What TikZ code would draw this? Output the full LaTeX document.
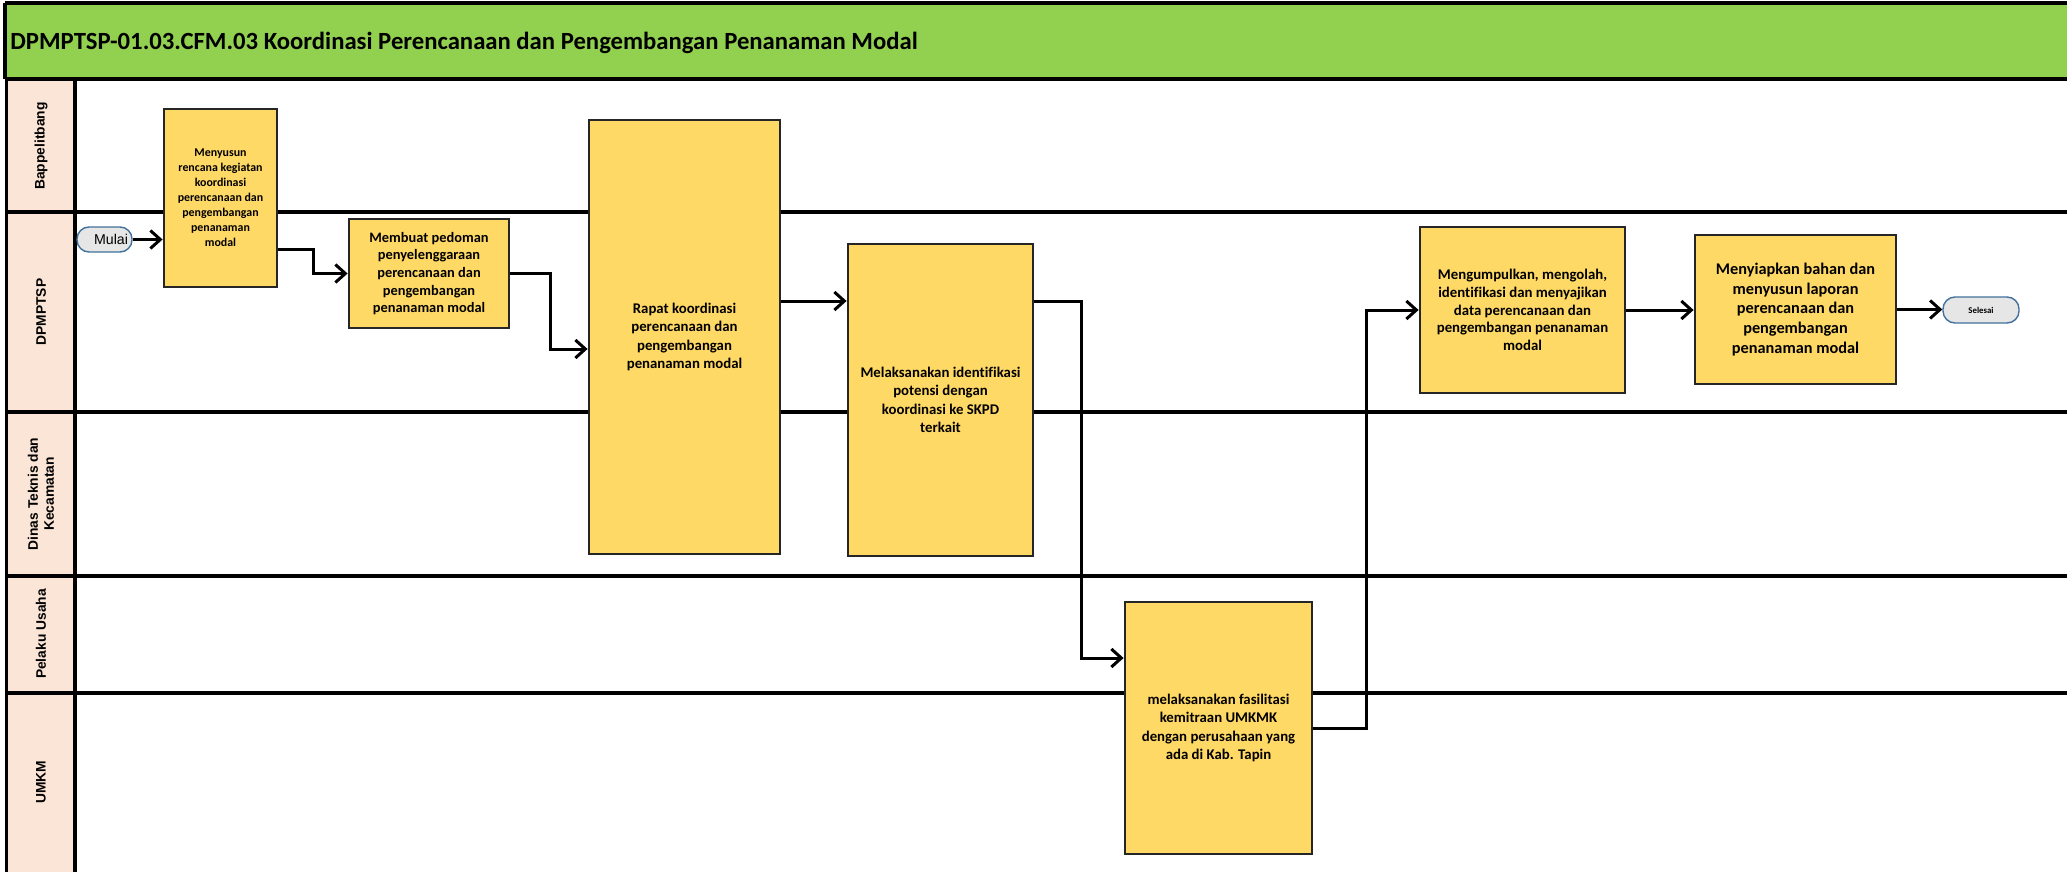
\documentclass[tikz,border=0pt]{standalone}
\usepackage{fontspec}
\setmainfont[Ligatures=NoCommon]{Carlito}
\newfontfamily\arialfont{Liberation Sans}
\usetikzlibrary{arrows.meta,calc}
\definecolor{titlegreen}{HTML}{92D050}
\definecolor{lanepeach}{HTML}{FBE5D6}
\definecolor{boxyellow}{HTML}{FFD966}
\definecolor{boxline}{HTML}{262626}
\definecolor{termfill}{HTML}{E7E6E6}
\definecolor{termline}{HTML}{41719C}
\tikzset{
  stepbox/.style={draw=boxline, fill=boxyellow, line width=1.4pt, inner sep=0pt, align=center,
    font=\bfseries\fontsize{7.3}{9.1}\selectfont},
  term/.style={draw=termline, fill=termfill, line width=0.7pt, rounded corners=6pt, inner sep=0pt},
  lanelabel/.style={rotate=90, align=center, inner sep=0pt, font=\arialfont\bfseries\fontsize{6.9}{8}\selectfont},
  laneline/.style={line width=1.6pt, draw=black},
  arr/.style={draw=black, line width=1.5pt, -{Straight Barb[length=5pt,width=9pt]}},
}
\begin{document}
\begin{tikzpicture}[x=0.5pt, y=-0.5pt, line join=miter]
\useasboundingbox (0,0) rectangle (2067,872);
\clip (0,0) rectangle (2067,872);
% backgrounds
\fill[white] (0,0) rectangle (2067,872);
\fill[titlegreen] (5,3) rectangle (2090,79);
\fill[lanepeach] (6.5,79) rectangle (75,890);
% lane lines
\draw[laneline] (5,3) -- (2090,3);
\draw[laneline] (5,3) -- (5,79);
\draw[laneline] (5,79) -- (2090,79);
\draw[laneline] (6.5,79) -- (6.5,890);
\draw[laneline] (75,79) -- (75,890);
\draw[laneline] (6.5,212) -- (2090,212);
\draw[laneline] (6.5,412) -- (2090,412);
\draw[laneline] (6.5,576) -- (2090,576);
\draw[laneline] (6.5,693) -- (2090,693);
% title
\node[anchor=west, inner sep=0pt, font=\bfseries\fontsize{12.35}{14}\selectfont] (title) at (10,43)
  {DPMPTSP-01.03.CFM.03 Koordinasi Perencanaan dan Pengembangan Penanaman Modal};
% lane labels
\node[lanelabel] (l1) at (41,146) {Bappelitbang};
\node[lanelabel] (l2) at (41,312) {DPMPTSP};
\node[lanelabel] (l3) at (41,494) {Dinas Teknis dan\\Kecamatan};
\node[lanelabel] (l4) at (41,634) {Pelaku Usaha};
\node[lanelabel] (l5) at (41,782) {UMKM};
% nodes
\node[term, minimum width=27.5pt, minimum height=12.5pt, text width=23.5pt, inner xsep=2pt, align=right,
  font=\arialfont\fontsize{7.1}{8}\selectfont] (mulai) at (104.5,239.5) {Mulai};
\node[stepbox, minimum width=56.5pt, minimum height=89pt, font=\bfseries\fontsize{5.95}{7.5}\selectfont] (n1) at (220.5,198)
  {Menyusun\\rencana kegiatan\\koordinasi\\perencanaan dan\\pengembangan\\penanaman\\modal};
\node[stepbox, minimum width=80pt, minimum height=54.5pt, font=\bfseries\fontsize{7.2}{8.8}\selectfont] (n2) at (429,273.5)
  {Membuat pedoman\\penyelenggaraan\\perencanaan dan\\pengembangan\\penanaman modal};
\node[stepbox, minimum width=95.5pt, minimum height=217pt, font=\bfseries\fontsize{7.4}{9.15}\selectfont] (n3) at (684.5,337)
  {Rapat koordinasi\\perencanaan dan\\pengembangan\\penanaman modal};
\node[stepbox, minimum width=92.5pt, minimum height=156pt, font=\bfseries\fontsize{7.4}{9.15}\selectfont] (n4) at (940.5,400)
  {Melaksanakan identifikasi\\potensi dengan\\koordinasi ke SKPD\\terkait};
\node[stepbox, minimum width=93.5pt, minimum height=126pt, font=\bfseries\fontsize{7.4}{9.15}\selectfont] (n5) at (1218.5,728)
  {melaksanakan fasilitasi\\kemitraan UMKMK\\dengan perusahaan yang\\ada di Kab. Tapin};
\node[stepbox, minimum width=102.5pt, minimum height=83pt, font=\bfseries\fontsize{7.4}{8.85}\selectfont] (n6) at (1522.5,310)
  {Mengumpulkan, mengolah,\\identifikasi dan menyajikan\\data perencanaan dan\\pengembangan penanaman\\modal};
\node[stepbox, minimum width=100.5pt, minimum height=74.5pt, font=\bfseries\fontsize{8.15}{9.9}\selectfont] (n7) at (1795.5,309.5)
  {Menyiapkan bahan dan\\menyusun laporan\\perencanaan dan\\pengembangan\\penanaman modal};
\node[term, minimum width=38pt, minimum height=13pt, font=\bfseries\fontsize{4.4}{5}\selectfont] (selesai) at (1981,310) {Selesai};
% connectors
\draw[arr] (mulai.east) -- (mulai.east -| n1.west);
\draw[arr] ([yshift=-25.5pt]n1.east) -- ++(35,0) |- (n2.west);
\draw[arr] (n2.east) -- ++(40,0) |- ([yshift=-6pt]n3.west);
\draw[arr] ([yshift=18pt]n3.east) -- ([yshift=18pt]n3.east -| n4.west);
\draw[arr] ([yshift=49.5pt]n4.east) -- ++(47,0) |- ([yshift=35pt]n5.west);
\draw[arr] (n5.east) -- ++(53,0) |- (n6.west);
\draw[arr] (n6.east) -- (n6.east -| n7.west);
\draw[arr] (n7.east) -- (n7.east -| selesai.west);
\end{tikzpicture}
\end{document}
